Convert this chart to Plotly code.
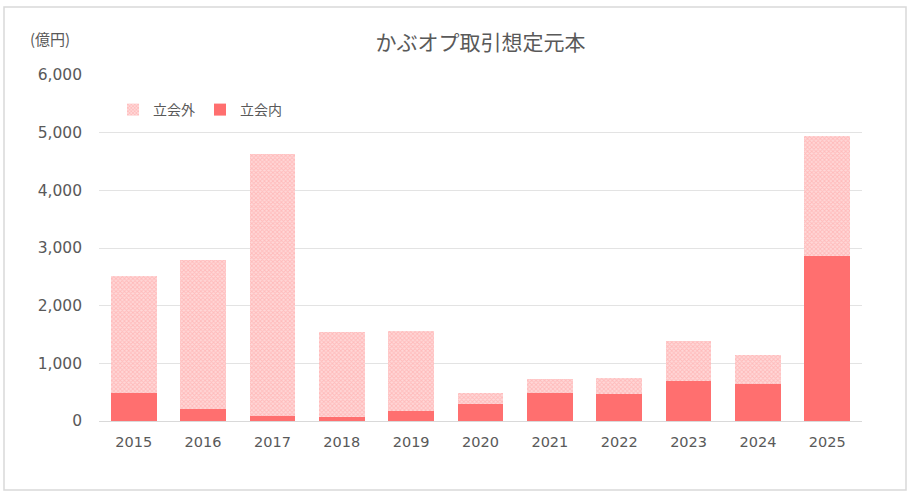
import plotly.graph_objects as go

years = ["2015", "2016", "2017", "2018", "2019", "2020", "2021", "2022", "2023", "2024", "2025"]
total = [2510, 2800, 4630, 1535, 1560, 480, 735, 745, 1390, 1145, 4935]
inside = [490, 210, 95, 65, 175, 290, 490, 460, 695, 635, 2870]
outside = [t - i for t, i in zip(total, inside)]

yticks = [0, 1000, 2000, 3000, 4000, 5000, 6000]
ytext = ["0", "1,000", "2,000", "3,000", "4,000", "5,000", "6,000"]

fig = go.Figure()
fig.add_trace(go.Bar(
    x=years, y=inside, name="立会内",
    marker=dict(color="#FF6F6F", line=dict(width=0)),
))
fig.add_trace(go.Bar(
    x=years, y=outside, name="立会外",
    marker=dict(color="#FFD0D0", line=dict(width=0),
                pattern=dict(shape="x", fgcolor="#FF9C9C", bgcolor="#FFD8D8",
                             size=3, solidity=0.5)),
))

W, H = 910, 496
L, R, T, B = 99, 48, 75, 75
pw, ph = W - L - R, H - T - B

def px(x):
    return (x - L) / pw

def py(y):
    return (H - B - y) / ph

fig.update_layout(
    width=W, height=H,
    barmode="stack", bargap=0.34,
    margin=dict(l=L, r=R, t=T, b=B),
    paper_bgcolor="white", plot_bgcolor="white",
    font=dict(family="DejaVu Sans, Noto Sans CJK JP", color="#595959", size=14),
    title=dict(text="かぶオプ取引想定元本", x=0.5, xref="paper", xanchor="center",
               y=1 - 43 / H, yanchor="middle",
               font=dict(family="Noto Sans CJK JP", size=21, color="#595959")),
    legend=dict(orientation="h", x=px(113), y=py(110), xanchor="left", yanchor="middle",
                traceorder="reversed", font=dict(family="Noto Sans CJK JP", size=14, color="#595959"),
                itemwidth=30, bgcolor="rgba(0,0,0,0)"),
    xaxis=dict(showgrid=False, showline=True, linecolor="#D9D9D9", linewidth=1,
               ticks="", ticklabelstandoff=8,
               tickfont=dict(size=14.5, color="#595959"), fixedrange=True),
    yaxis=dict(range=[0, 6000], tickvals=yticks, ticktext=ytext, showgrid=True,
               gridcolor="#E3E3E3", gridwidth=1, zeroline=False, showline=False,
               ticks="", ticklen=0, ticklabelstandoff=16,
               tickfont=dict(size=15.5, color="#595959"), fixedrange=True),
    annotations=[dict(text="(億円)", xref="paper", yref="paper", x=px(28), y=py(39),
                      xanchor="left", yanchor="middle", showarrow=False,
                      font=dict(family="Noto Sans CJK JP", size=15, color="#595959"))],
    shapes=[dict(type="rect", xref="paper", yref="paper",
                 x0=px(4), x1=px(906), y0=py(490), y1=py(7),
                 line=dict(color="#D9D9D9", width=1.5), fillcolor="rgba(0,0,0,0)", layer="below")],
)

fig.write_html("out.html", config={"displayModeBar": False},
               post_script="document.body.style.margin='0';document.body.style.padding='0';")
